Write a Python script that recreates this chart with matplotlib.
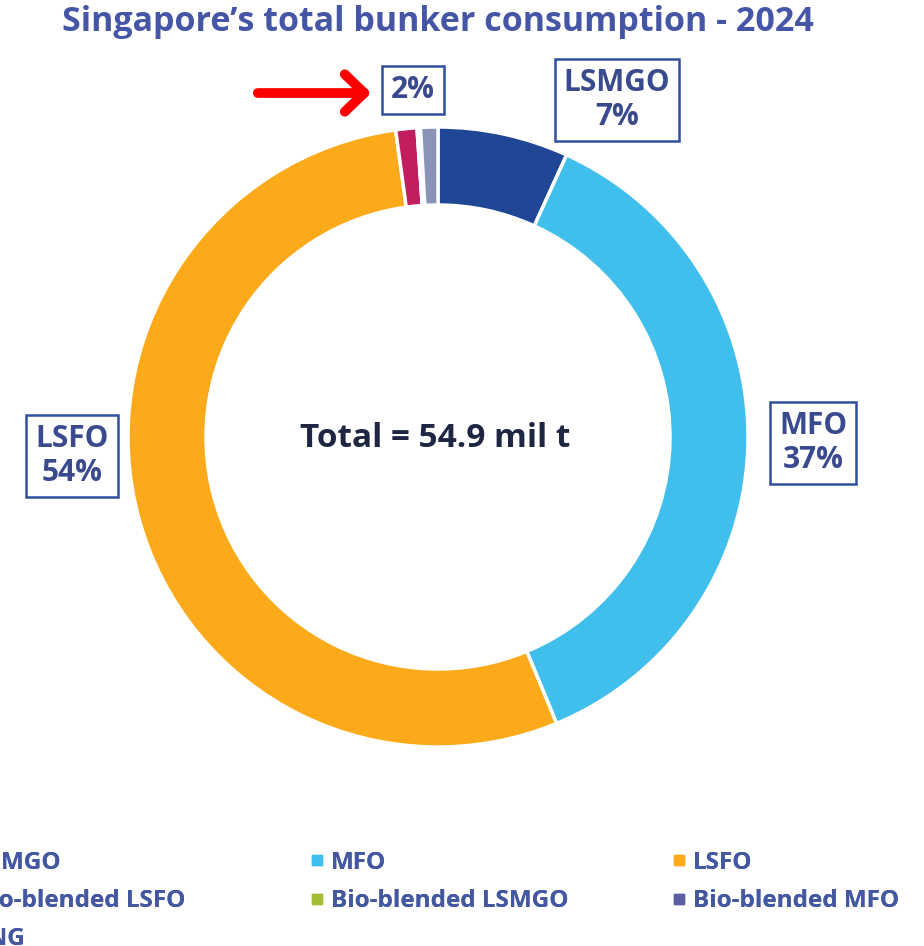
import matplotlib
matplotlib.use("Agg")
import matplotlib.pyplot as plt
from matplotlib.lines import Line2D

# data (share of 2024 bunker sales, %)
fuels = ["LSMGO", "MFO", "LSFO", "Bio-blended LSFO", "Bio-blended LSMGO", "Bio-blended MFO", "LNG"]
shares = [6.8, 36.9, 54.0, 1.1, 0.03, 0.15, 0.9]
colors = ["#1F4796", "#41BFEC", "#FDAA1A", "#C21E5F", "#A4BD37", "#5B5EA0", "#8A93B8"]
total_label = "Total = 54.9 mil t"
title = "Singapore\u2019s total bunker consumption - 2024"

W, H = 924, 946
plt.rcParams["font.family"] = ["Open Sans", "DejaVu Sans"]
plt.rcParams["font.weight"] = "bold"

fig = plt.figure(figsize=(W / 100, H / 100), dpi=100)
ax = fig.add_axes([0, 0, 1, 1])

def yy(y):
    # image y (from top) -> data y
    return H - y

ax.pie(shares, colors=colors, startangle=90, counterclock=False,
       center=(438, yy(437)), radius=310,
       wedgeprops=dict(width=78, edgecolor="white", linewidth=2.5))
ax.set_xlim(0, W)
ax.set_ylim(0, H)
ax.set_aspect("equal")
ax.axis("off")

title_col = "#4656A6"
label_col = "#3A4A8E"
box = dict(boxstyle="square,pad=0.3", fc="white", ec="#2E50A0", lw=1.8)

ax.text(438, yy(22), title, ha="center", va="center", fontsize=24.5, color=title_col)
ax.text(435, yy(438), total_label, ha="center", va="center", fontsize=24, color="#1E2643")

ax.text(617, yy(100), "LSMGO\n7%", ha="center", va="center", fontsize=21.5,
        color=label_col, linespacing=1.2, bbox=box)
ax.text(813, yy(443), "MFO\n37%", ha="center", va="center", fontsize=21.5,
        color=label_col, linespacing=1.2, bbox=box)
ax.text(72, yy(456), "LSFO\n54%", ha="center", va="center", fontsize=21.5,
        color=label_col, linespacing=1.2, bbox=box)
ax.text(413, yy(90), "2%", ha="center", va="center", fontsize=21.5,
        color=label_col, bbox=box)

ax.annotate("", xy=(374, yy(93)), xytext=(255, yy(93)),
            arrowprops=dict(arrowstyle="->,head_length=1.4,head_width=1.35",
                            color="#FF0000", lw=7, capstyle="round", joinstyle="round"))

# legend, row-major in three columns (first column runs off the left edge)
handles = [Line2D([], [], ls="none", marker="s", ms=6.5, color=c, label=f)
           for f, c in zip(fuels, colors)]
columns = [[0, 3, 6], [1, 4], [2, 5]]
col_left = [-46, 310, 672]
for idx, left in zip(columns, col_left):
    leg = fig.legend(handles=[handles[i] for i in idx], loc="upper left",
                     bbox_to_anchor=(left / W, 1 - 851 / H), frameon=False,
                     borderpad=0, borderaxespad=0, handlelength=0.55,
                     handletextpad=0.3, labelspacing=0.58, fontsize=17.5,
                     labelcolor="#4458A2")
    fig.add_artist(leg)

fig.savefig("out.png", dpi=100)
